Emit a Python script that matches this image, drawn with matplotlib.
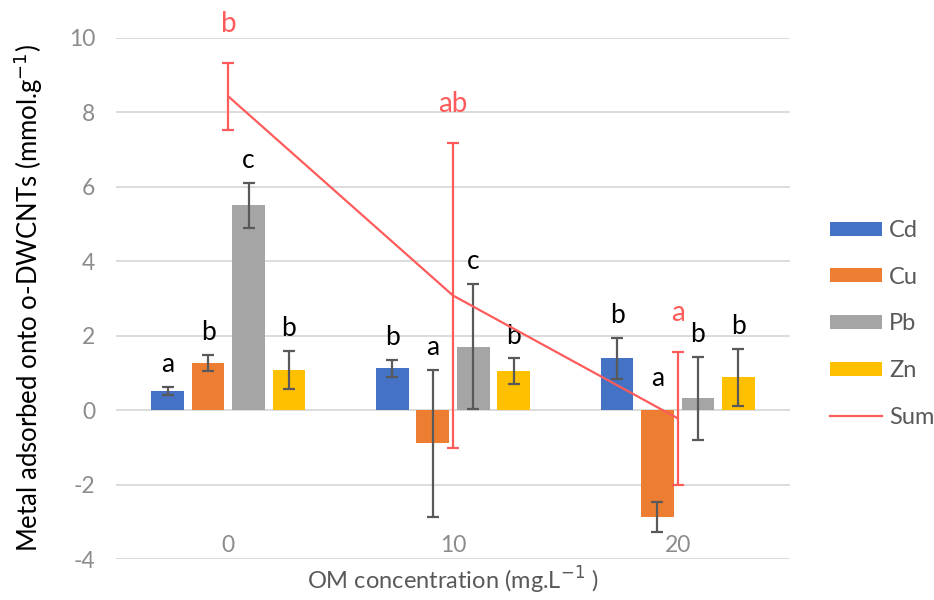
import matplotlib
matplotlib.use("Agg")
import matplotlib.pyplot as plt
import numpy as np
from matplotlib.lines import Line2D
from matplotlib.patches import Patch

plt.rcParams['font.family'] = ['Lato', 'DejaVu Sans']

categories = ["0", "10", "20"]
metals = ["Cd", "Cu", "Pb", "Zn"]
colors = ["#4472C4", "#ED7D31", "#A5A5A5", "#FFC000"]

cd_vals = [0.51, 1.13, 1.40]
cu_vals = [1.26, -0.89, -2.88]
pb_vals = [5.50, 1.71, 0.32]
zn_vals = [1.09, 1.05, 0.88]

cd_err = [0.11, 0.23, 0.55]
cu_err = [0.22, 1.97, 0.40]
pb_err = [0.60, 1.68, 1.12]
zn_err = [0.51, 0.34, 0.76]

cd_letters = ["a", "b", "b"]
cu_letters = ["b", "a", "a"]
pb_letters = ["c", "c", "b"]
zn_letters = ["b", "b", "b"]

sum_vals = [8.43, 3.08, -0.22]
sum_err = [0.90, 4.10, 1.78]
sum_letters = ["b", "ab", "a"]

yticks = [-4, -2, 0, 2, 4, 6, 8, 10]

values = [cd_vals, cu_vals, pb_vals, zn_vals]
errors = [cd_err, cu_err, pb_err, zn_err]
letters = [cd_letters, cu_letters, pb_letters, zn_letters]

fig = plt.figure(figsize=(9.34, 6.0), dpi=100)
L, R = 116 / 934, 790 / 934
B, T = (600 - 559) / 600, (600 - 38) / 600
ax = fig.add_axes([L, B, R - L, T - B])

x = np.arange(len(categories))
step = 0.180
width = 0.145
red = "#FF5B5B"

for i, (vals, errs, lets, col) in enumerate(zip(values, errors, letters, colors)):
    xs = x + (i - 1.5) * step
    ax.bar(xs, vals, width=width, color=col, zorder=2)
    ax.errorbar(xs, vals, yerr=errs, fmt='none', ecolor='#595959',
                elinewidth=1.6, capsize=4.5, capthick=1.6, zorder=3)
    for xi, v, e, lt in zip(xs, vals, errs, lets):
        top = max(v + e, 0.25)
        ax.text(xi, top + 0.6, lt, ha='center', va='center',
                fontsize=19, color='black', zorder=4)

ax.plot(x, sum_vals, color=red, lw=1.6, zorder=4)
ax.errorbar(x, sum_vals, yerr=sum_err, fmt='none', ecolor=red,
            elinewidth=1.6, capsize=4.5, capthick=1.6, zorder=4)
for xi, v, e, lt in zip(x, sum_vals, sum_err, sum_letters):
    ax.text(xi, v + e + 1.05, lt, ha='center', va='center',
            fontsize=20, color=red, zorder=5)

ax.set_xlim(-0.5, 2.5)
ax.set_ylim(-4, 10)
ax.set_yticks(yticks)
ax.set_yticklabels([str(t) for t in yticks], fontsize=16.5, color='#8C8C8C')
ax.set_xticks(x)
ax.set_xticklabels(categories, fontsize=16.5, color='#8C8C8C')
ax.tick_params(axis='y', length=0, pad=15)
ax.tick_params(axis='x', length=0, pad=-17)
ax.grid(axis='y', color='#D9D9D9', lw=1.3, zorder=0)
ax.set_axisbelow(True)
for s in ax.spines.values():
    s.set_visible(False)

ax.set_ylabel("Metal adsorbed onto o-DWCNTs (mmol.g$^{-1}$)", fontsize=18.5,
              color='black')
ax.yaxis.set_label_coords((45 - 116) / 674, 0.5)
ax.set_xlabel("OM concentration (mg.L$^{-1}$ )", fontsize=17,
              color='#595959', labelpad=4)

handles = [Patch(facecolor=c, edgecolor='none') for c in colors]
handles.append(Line2D([0], [0], color=red, lw=1.6))
fig.legend(handles, metals + ["Sum"], loc='upper left',
           bbox_to_anchor=(830 / 934, (600 - 220) / 600), frameon=False,
           fontsize=17, handlelength=2.2, handleheight=0.55,
           labelspacing=1.09, borderpad=0, borderaxespad=0, handletextpad=0.3,
           labelcolor='#595959')

fig.savefig("out.png", dpi=100)
